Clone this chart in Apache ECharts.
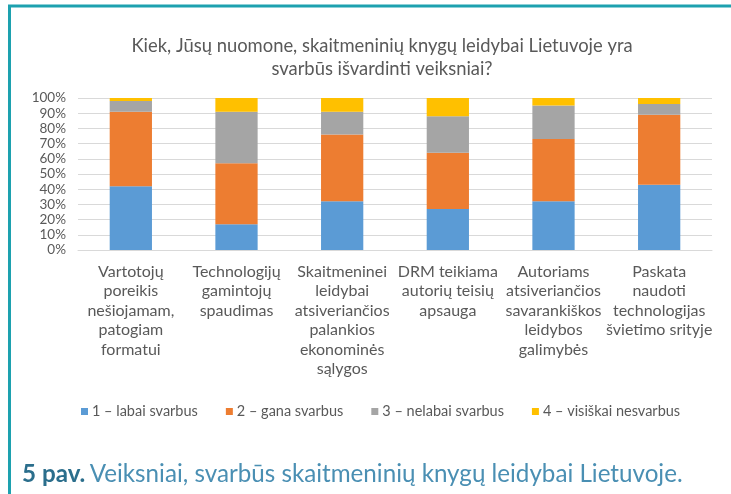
<!DOCTYPE html>
<html>
<head>
<meta charset="utf-8">
<script src="https://cdn.jsdelivr.net/npm/echarts@6/dist/echarts.min.js"></script>
<style>
html,body{margin:0;padding:0;background:#fff;}
#chart{width:731px;height:494px;}
</style>
</head>
<body>
<div id="chart"></div>
<script>
const categories = [
  "Vartotojų\nporeikis\nnešiojamam,\npatogiam\nformatui",
  "Technologijų\ngamintojų\nspaudimas",
  "Skaitmeninei\nleidybai\natsiveriančios\npalankios\nekonominės\nsąlygos",
  "DRM teikiama\nautorių teisių\napsauga",
  "Autoriams\natsiveriančios\nsavarankiškos\nleidybos\ngalimybės",
  "Paskata\nnaudoti\ntechnologijas\nšvietimo srityje"
];
const seriesNames = ["1 – labai svarbus", "2 – gana svarbus", "3 – nelabai svarbus", "4 – visiškai nesvarbus"];
const labai = [42, 17, 32, 27, 32, 43];
const gana = [49, 40, 44, 37, 41, 46];
const nelabai = [7, 34, 15, 24, 22, 7];
const visiskai = [2, 9, 9, 12, 5, 4];
const colors = ["#5B9BD5", "#ED7D31", "#A5A5A5", "#FFC000"];
const titleText = "Kiek, Jūsų nuomone, skaitmeninių knygų leidybai Lietuvoje yra\nsvarbūs išvardinti veiksniai?";
const captionNum = "5 pav.";
const captionText = "Veiksniai, svarbūs skaitmeninių knygų leidybai Lietuvoje.";

const FONT = "Lato, 'Open Sans', sans-serif";
const chart = echarts.init(document.getElementById('chart'), null, {renderer: 'canvas'});
const values = [labai, gana, nelabai, visiskai];
chart.setOption({
  animation: false,
  backgroundColor: '#fff',
  color: colors,
  textStyle: {fontFamily: FONT},
  title: [{
    text: titleText,
    left: 377, top: 30, textAlign: 'center',
    textStyle: {fontFamily: FONT, fontSize: 18.4, fontWeight: 'normal', color: '#595959', lineHeight: 23}
  }, {
    text: '{a|' + captionNum + '} {b|' + captionText + '}',
    left: 17, top: 457,
    textStyle: {
      rich: {
        a: {fontFamily: FONT, fontSize: 24.2, fontWeight: 'bold', color: '#2B6E8C'},
        b: {fontFamily: FONT, fontSize: 24.2, fontWeight: 'normal', color: '#4A8FB3'}
      }
    }
  }],
  legend: {
    left: 76, top: 399,
    itemWidth: 7, itemHeight: 7, itemGap: 28,
    icon: 'rect',
    textStyle: {fontFamily: FONT, fontSize: 14.5, color: '#595959', padding: [0,0,0,-1]},
    data: seriesNames
  },
  grid: {left: 78, right: 19, top: 98, bottom: 244, containLabel: false},
  xAxis: {
    type: 'category', data: categories,
    axisLine: {show: true, lineStyle: {color: '#D9D9D9'}},
    axisTick: {show: false},
    axisLabel: {interval: 0, margin: 12, fontFamily: FONT, fontSize: 16, color: '#595959', lineHeight: 19.5}
  },
  yAxis: {
    type: 'value', min: 0, max: 100, interval: 10,
    axisLine: {show: false}, axisTick: {show: false},
    axisLabel: {formatter: '{value}%', margin: 12, fontFamily: FONT, fontSize: 13.5, color: '#595959'},
    splitLine: {lineStyle: {color: '#D9D9D9'}}
  },
  series: seriesNames.map((n, i) => ({
    name: n, type: 'bar', stack: 'total', barWidth: '40%',
    data: values[i],
    itemStyle: {color: colors[i]}
  })),
  graphic: [
    {type: 'line', shape: {x1: 8, y1: 6, x2: 731, y2: 6}, style: {stroke: '#1DA1AF', lineWidth: 3}},
    {type: 'line', shape: {x1: 9.5, y1: 5, x2: 9.5, y2: 494}, style: {stroke: '#1DA1AF', lineWidth: 3}}
  ]
});
</script>
</body>
</html>
